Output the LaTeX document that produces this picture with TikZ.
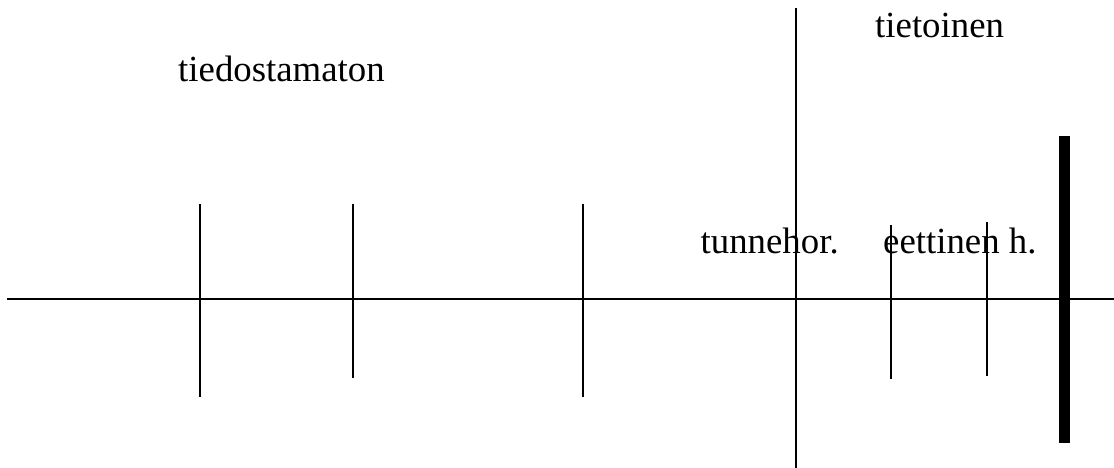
\documentclass[tikz,border=0pt]{standalone}
\usepackage{fontspec}
\setmainfont{Liberation Serif}
\newfontfamily\lblfont{Liberation Serif}
\begin{document}
\begin{tikzpicture}[x=1pt,y=-1pt,
  lbl/.style={inner sep=0pt,anchor=base west,font=\lblfont\fontsize{36.8}{44}\selectfont},
  ln/.style={line width=2pt},
  bar/.style={line width=11.5pt}]
\useasboundingbox (0,0) rectangle (1114,468);
% axis
\coordinate (axL) at (7,298.5);
\coordinate (axR) at (1114,298.5);
\draw[ln] (axL) -- (axR);
% long vertical divider
\coordinate (dT) at (795.5,8);
\coordinate (dB) at (795.5,468);
\draw[ln] (dT) -- (dB);
% ticks
\coordinate (t1T) at (200,204); \coordinate (t1B) at (200,397);
\coordinate (t2T) at (353,204); \coordinate (t2B) at (353,378);
\coordinate (t3T) at (583,204); \coordinate (t3B) at (583,397);
\coordinate (t4T) at (890.5,225); \coordinate (t4B) at (890.5,379);
\coordinate (t5T) at (987,222); \coordinate (t5B) at (987,376);
\draw[ln] (t1T) -- (t1B);
\draw[ln] (t2T) -- (t2B);
\draw[ln] (t3T) -- (t3B);
\draw[ln] (t4T) -- (t4B);
\draw[ln] (t5T) -- (t5B);
% thick bar
\coordinate (bT) at (1064.5,136); \coordinate (bB) at (1064.5,443);
\draw[bar] (bT) -- (bB);
% labels
\node[lbl] (tied) at (178,82) {tiedostamaton};
\node[lbl] (tiet) at (875,38) {tietoinen};
\node[lbl] (tunne) at (700.5,253) {tunnehor.};
\node[lbl] (eett) at (883,253) {eettinen h.};
\end{tikzpicture}
\end{document}
